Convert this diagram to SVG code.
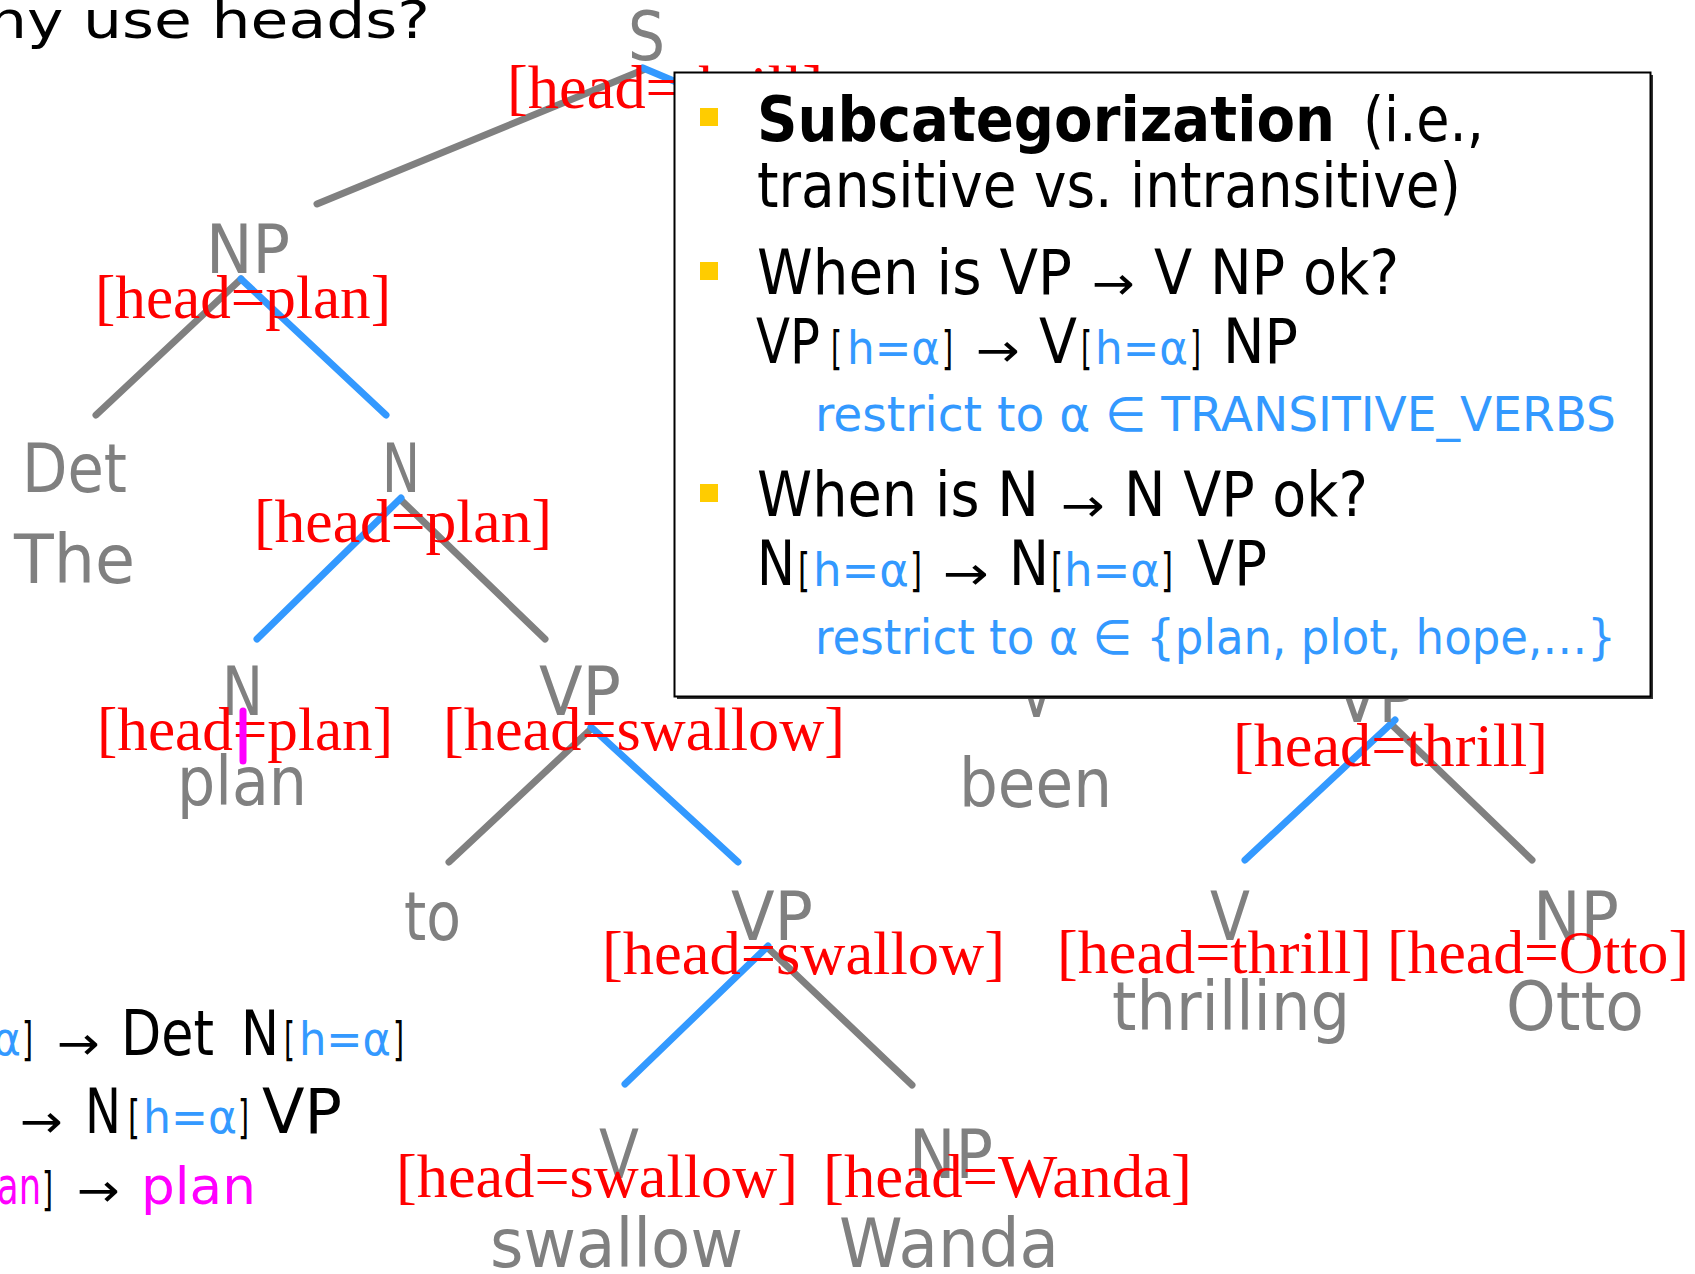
<svg xmlns="http://www.w3.org/2000/svg" width="1695" height="1274" viewBox="0 0 1695 1274">
  <style>
    .g  { fill:#808080; font-family:"DejaVu Sans","Liberation Sans",sans-serif; font-size:68px; }
    .r  { fill:#FF0000; font-family:"Liberation Serif","Times New Roman",serif; font-size:61px; }
    .k  { fill:#000000; font-family:"DejaVu Sans","Liberation Sans",sans-serif; font-size:62px; }
    .kb { font-weight:bold; }
    .sm { font-size:46px; }
    .md { font-size:51px; }
    .bl { fill:#3399FF; }
    .mg { fill:#FF00FF; }
    .rs { fill:#3399FF; font-family:"DejaVu Sans","Liberation Sans",sans-serif; font-size:48px; }
    .e  { fill:none; stroke-width:7; stroke-linecap:round; }
    .eg { stroke:#808080; }
    .eb { stroke:#3399FF; }
    .bul { fill:#FFCC00; }
  </style>

  <rect width="1695" height="1274" fill="#FFFFFF"/>

  <!-- slide title -->
  <text class="k" x="-12" y="38" style="font-size:52px" textLength="442" lengthAdjust="spacingAndGlyphs">hy use heads?</text>

  <!-- tree branches: grey = non-head, blue = head path -->
  <g id="connectors">
    <line class="e eg" x1="643" y1="70" x2="317" y2="204"/>
    <line class="e eg" x1="241" y1="279" x2="96" y2="415"/>
    <line class="e eg" x1="401" y1="500" x2="545" y2="639"/>
    <line class="e eg" x1="591" y1="729" x2="449" y2="862"/>
    <line class="e eg" x1="768" y1="948" x2="912" y2="1085"/>
    <line class="e eg" x1="1391" y1="724" x2="1532" y2="860"/>
    <line class="e eb" x1="643" y1="68" x2="700" y2="92"/>
    <line class="e eb" x1="241" y1="279" x2="386" y2="415"/>
    <line class="e eb" x1="401" y1="498" x2="257" y2="639"/>
    <line class="e eb" x1="591" y1="727" x2="738" y2="862"/>
    <line class="e eb" x1="768" y1="946" x2="625" y2="1084"/>
    <line class="e eb" x1="1395" y1="720" x2="1245" y2="860"/>
  </g>

  <g id="node-S">
    <text class="g" x="628" y="60" textLength="37" lengthAdjust="spacingAndGlyphs">S</text>
    <text class="r" x="507" y="108" textLength="316" lengthAdjust="spacingAndGlyphs">[head=thrill]</text>
  </g>
  <g id="node-NP-plan">
    <text class="g" x="206" y="273" textLength="84" lengthAdjust="spacingAndGlyphs">NP</text>
    <text class="r" x="95" y="318" textLength="296" lengthAdjust="spacingAndGlyphs">[head=plan]</text>
  </g>
  <g id="node-Det">
    <text class="g" x="22" y="492" textLength="105" lengthAdjust="spacingAndGlyphs">Det</text>
    <text class="g" x="14" y="583" textLength="121" lengthAdjust="spacingAndGlyphs">The</text>
  </g>
  <g id="node-N-top">
    <text class="g" x="382" y="492" textLength="38" lengthAdjust="spacingAndGlyphs">N</text>
    <text class="r" x="254" y="542" textLength="298" lengthAdjust="spacingAndGlyphs">[head=plan]</text>
  </g>
  <g id="node-N-leaf">
    <text class="g" x="222" y="715" textLength="41" lengthAdjust="spacingAndGlyphs">N</text>
    <text class="g" x="177" y="805" textLength="130" lengthAdjust="spacingAndGlyphs">plan</text>
    <text class="r" x="97" y="750" textLength="296" lengthAdjust="spacingAndGlyphs">[head=plan]</text>
    <line x1="243" y1="711" x2="243" y2="761" stroke="#FF00FF" stroke-width="7" stroke-linecap="round"/>
  </g>
  <g id="node-VP-to">
    <text class="g" x="539" y="715" textLength="82" lengthAdjust="spacingAndGlyphs">VP</text>
    <text class="r" x="443" y="750" textLength="402" lengthAdjust="spacingAndGlyphs">[head=swallow]</text>
  </g>
  <g id="node-to">
    <text class="g" x="404" y="940" textLength="57" lengthAdjust="spacingAndGlyphs">to</text>
  </g>
  <g id="node-VP-swallow">
    <text class="g" x="731" y="940" textLength="82" lengthAdjust="spacingAndGlyphs">VP</text>
    <text class="r" x="602" y="974" textLength="403" lengthAdjust="spacingAndGlyphs">[head=swallow]</text>
  </g>
  <g id="node-V-swallow">
    <text class="g" x="599" y="1178" textLength="40" lengthAdjust="spacingAndGlyphs">V</text>
    <text class="g" x="490" y="1267" textLength="253" lengthAdjust="spacingAndGlyphs">swallow</text>
    <text class="r" x="396" y="1197" textLength="402" lengthAdjust="spacingAndGlyphs">[head=swallow]</text>
  </g>
  <g id="node-NP-Wanda">
    <text class="g" x="909" y="1178" textLength="84" lengthAdjust="spacingAndGlyphs">NP</text>
    <text class="g" x="839" y="1267" textLength="220" lengthAdjust="spacingAndGlyphs">Wanda</text>
    <text class="r" x="823" y="1197" textLength="369" lengthAdjust="spacingAndGlyphs">[head=Wanda]</text>
  </g>
  <g id="node-V-been">
    <text class="g" x="1018" y="717" textLength="37" lengthAdjust="spacingAndGlyphs">V</text>
    <text class="g" x="959" y="807" textLength="153" lengthAdjust="spacingAndGlyphs">been</text>
  </g>
  <g id="node-VP-thrill">
    <text class="g" x="1336" y="722" textLength="80" lengthAdjust="spacingAndGlyphs">VP</text>
    <text class="r" x="1233" y="766" textLength="315" lengthAdjust="spacingAndGlyphs">[head=thrill]</text>
  </g>
  <g id="node-V-thrilling">
    <text class="g" x="1210" y="940" textLength="40" lengthAdjust="spacingAndGlyphs">V</text>
    <text class="g" x="1112" y="1030" textLength="238" lengthAdjust="spacingAndGlyphs">thrilling</text>
    <text class="r" x="1057" y="973" textLength="315" lengthAdjust="spacingAndGlyphs">[head=thrill]</text>
  </g>
  <g id="node-NP-Otto">
    <text class="g" x="1533" y="940" textLength="86" lengthAdjust="spacingAndGlyphs">NP</text>
    <text class="g" x="1506" y="1030" textLength="138" lengthAdjust="spacingAndGlyphs">Otto</text>
    <text class="r" x="1387" y="973" textLength="302" lengthAdjust="spacingAndGlyphs">[head=Otto]</text>
  </g>

  <!-- head-passing rules at lower left -->
  <g id="rules">
    <text class="k sm bl" x="-7" y="1055" textLength="28" lengthAdjust="spacingAndGlyphs">α</text>
    <text class="k sm" x="22" y="1055" textLength="11" lengthAdjust="spacingAndGlyphs">]</text>
    <text class="k sm" x="57" y="1059" textLength="43" lengthAdjust="spacingAndGlyphs">→</text>
    <text class="k" x="121" y="1055" textLength="93" lengthAdjust="spacingAndGlyphs">Det</text>
    <text class="k" x="241" y="1055" textLength="38" lengthAdjust="spacingAndGlyphs">N</text>
    <text class="k sm" x="284" y="1055" textLength="11" lengthAdjust="spacingAndGlyphs">[</text>
    <text class="k sm bl" x="299" y="1055" textLength="92" lengthAdjust="spacingAndGlyphs">h=α</text>
    <text class="k sm" x="393" y="1055" textLength="11" lengthAdjust="spacingAndGlyphs">]</text>

    <text class="k sm" x="20" y="1137" textLength="43" lengthAdjust="spacingAndGlyphs">→</text>
    <text class="k" x="85" y="1133" textLength="36" lengthAdjust="spacingAndGlyphs">N</text>
    <text class="k sm" x="128" y="1133" textLength="12" lengthAdjust="spacingAndGlyphs">[</text>
    <text class="k sm bl" x="143" y="1133" textLength="94" lengthAdjust="spacingAndGlyphs">h=α</text>
    <text class="k sm" x="238" y="1133" textLength="11" lengthAdjust="spacingAndGlyphs">]</text>
    <text class="k" x="262" y="1133" textLength="80" lengthAdjust="spacingAndGlyphs">VP</text>

    <text class="k md mg" x="-3" y="1204" textLength="44" lengthAdjust="spacingAndGlyphs">an</text>
    <text class="k sm" x="42" y="1205" textLength="11" lengthAdjust="spacingAndGlyphs">]</text>
    <text class="k sm" x="77" y="1206" textLength="43" lengthAdjust="spacingAndGlyphs">→</text>
    <text class="k md mg" x="141" y="1204" textLength="115" lengthAdjust="spacingAndGlyphs">plan</text>
  </g>

  <!-- callout box on subcategorization -->
  <g id="callout">
    <rect x="677" y="75" width="976" height="624" fill="#333333"/>
    <rect x="674.5" y="72.5" width="976" height="624" fill="#FFFFFF" stroke="#000000" stroke-width="2"/>

    <rect class="bul" x="700" y="108" width="18" height="18"/>
    <text class="k kb" x="757" y="141" textLength="578" lengthAdjust="spacingAndGlyphs">Subcategorization</text>
    <text class="k" x="1363" y="141" textLength="121" lengthAdjust="spacingAndGlyphs">(i.e.,</text>
    <text class="k" x="757" y="207" textLength="704" lengthAdjust="spacingAndGlyphs">transitive vs. intransitive)</text>

    <rect class="bul" x="700" y="262" width="18" height="18"/>
    <text class="k" x="757" y="294" textLength="315" lengthAdjust="spacingAndGlyphs">When is VP</text>
    <text class="k sm" x="1092" y="299" textLength="43" lengthAdjust="spacingAndGlyphs">→</text>
    <text class="k" x="1154" y="294" textLength="245" lengthAdjust="spacingAndGlyphs">V NP ok?</text>

    <text class="k" x="756" y="363" textLength="64" lengthAdjust="spacingAndGlyphs">VP</text>
    <text class="k sm" x="831" y="364" textLength="11" lengthAdjust="spacingAndGlyphs">[</text>
    <text class="k sm bl" x="847" y="364" textLength="93" lengthAdjust="spacingAndGlyphs">h=α</text>
    <text class="k sm" x="942" y="364" textLength="11" lengthAdjust="spacingAndGlyphs">]</text>
    <text class="k sm" x="976" y="366" textLength="44" lengthAdjust="spacingAndGlyphs">→</text>
    <text class="k" x="1039" y="363" textLength="38" lengthAdjust="spacingAndGlyphs">V</text>
    <text class="k sm" x="1081" y="364" textLength="11" lengthAdjust="spacingAndGlyphs">[</text>
    <text class="k sm bl" x="1095" y="364" textLength="93" lengthAdjust="spacingAndGlyphs">h=α</text>
    <text class="k sm" x="1190" y="364" textLength="11" lengthAdjust="spacingAndGlyphs">]</text>
    <text class="k" x="1223" y="363" textLength="75" lengthAdjust="spacingAndGlyphs">NP</text>
    <text class="rs" x="815" y="431" textLength="801" lengthAdjust="spacingAndGlyphs">restrict to α ∈ TRANSITIVE_VERBS</text>

    <rect class="bul" x="700" y="484" width="18" height="18"/>
    <text class="k" x="757" y="516" textLength="282" lengthAdjust="spacingAndGlyphs">When is N</text>
    <text class="k sm" x="1061" y="521" textLength="44" lengthAdjust="spacingAndGlyphs">→</text>
    <text class="k" x="1124" y="516" textLength="244" lengthAdjust="spacingAndGlyphs">N VP ok?</text>

    <text class="k" x="757" y="585" textLength="38" lengthAdjust="spacingAndGlyphs">N</text>
    <text class="k sm" x="798" y="586" textLength="12" lengthAdjust="spacingAndGlyphs">[</text>
    <text class="k sm bl" x="813" y="586" textLength="96" lengthAdjust="spacingAndGlyphs">h=α</text>
    <text class="k sm" x="910" y="586" textLength="12" lengthAdjust="spacingAndGlyphs">]</text>
    <text class="k sm" x="943" y="589" textLength="46" lengthAdjust="spacingAndGlyphs">→</text>
    <text class="k" x="1009" y="585" textLength="40" lengthAdjust="spacingAndGlyphs">N</text>
    <text class="k sm" x="1051" y="586" textLength="12" lengthAdjust="spacingAndGlyphs">[</text>
    <text class="k sm bl" x="1064" y="586" textLength="96" lengthAdjust="spacingAndGlyphs">h=α</text>
    <text class="k sm" x="1161" y="586" textLength="12" lengthAdjust="spacingAndGlyphs">]</text>
    <text class="k" x="1197" y="585" textLength="70" lengthAdjust="spacingAndGlyphs">VP</text>
    <text class="rs" x="815" y="654" textLength="801" lengthAdjust="spacingAndGlyphs">restrict to α ∈ {plan, plot, hope,…}</text>
  </g>
</svg>
